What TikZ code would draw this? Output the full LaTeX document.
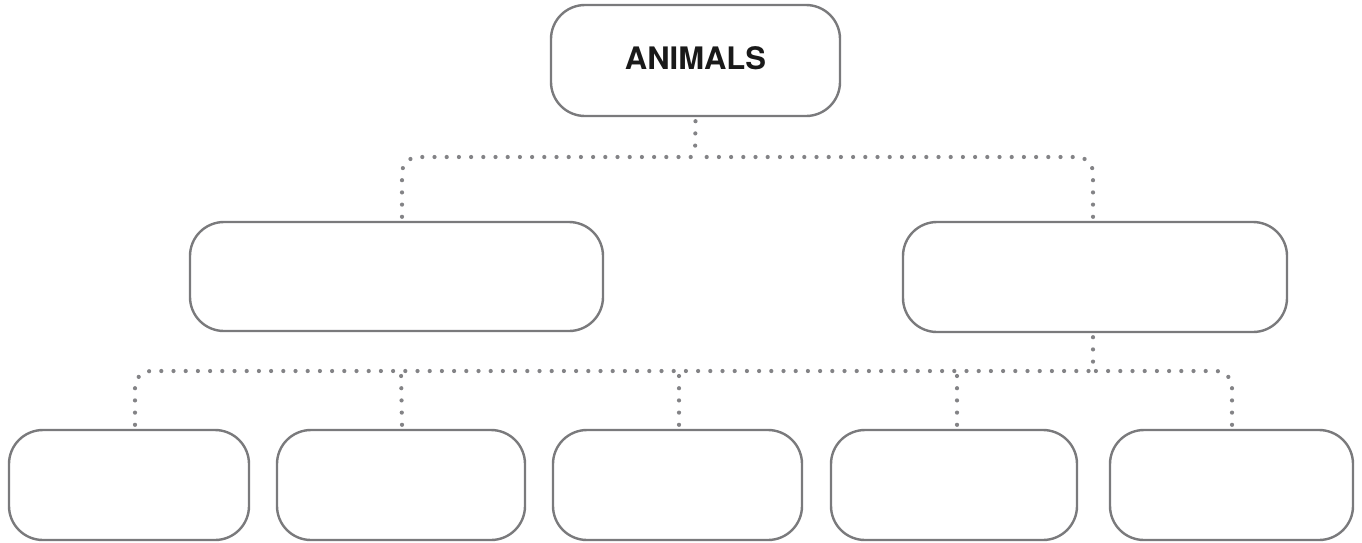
\documentclass[tikz,border=0pt]{standalone}
\usepackage{fontspec}
\setmainfont{TeX Gyre Heros}
\begin{document}
\begin{tikzpicture}[x=1pt,y=1pt,
  box/.style={draw=boxgray, line width=2.4pt, rounded corners=34pt, inner sep=0pt},
  dots/.style={draw=dotgray, line width=4.2pt, line cap=round, dash pattern=on 0pt off 12.2pt},
]
\definecolor{boxgray}{HTML}{7A7A7C}
\definecolor{dotgray}{HTML}{838386}
\useasboundingbox (0,0) rectangle (1362,-542);
\node[box, minimum width=289pt, minimum height=111pt] (top) at (695.5,-60.5) {};
\node[font=\bfseries\fontsize{31}{36}\selectfont, text=black!90] (title) at (695.5,-58) {ANIMALS};
\node[box, minimum width=413pt, minimum height=109pt] (ml) at (396.5,-276.5) {};
\node[box, minimum width=384pt, minimum height=110pt] (mr) at (1095,-277) {};
\node[box, minimum width=240pt, minimum height=110pt] (b1) at (129,-485) {};
\node[box, minimum width=248pt, minimum height=110pt] (b2) at (401,-485) {};
\node[box, minimum width=249pt, minimum height=110pt] (b3) at (677.5,-485) {};
\node[box, minimum width=246pt, minimum height=110pt] (b4) at (954,-485) {};
\node[box, minimum width=243pt, minimum height=110pt] (b5) at (1231.5,-485) {};
\coordinate (bus1) at (695,-157);
\coordinate (bus2) at (1093,-371);
% top level connectors
\draw[dots] ([yshift=-4pt]top.south) -- (bus1);
\draw[dots, rounded corners=16pt] ([xshift=5.5pt,yshift=4pt]ml.north) |- (bus1);
\draw[dots, rounded corners=16pt] ([xshift=-2pt,yshift=4pt]mr.north) |- (bus1);
% second level connectors
\draw[dots] ([xshift=-2pt,yshift=-4pt]mr.south) -- (bus2);
\draw[dots, rounded corners=16pt] ([xshift=6pt,yshift=4pt]b1.north) |- (bus2);
\draw[dots, rounded corners=16pt] ([xshift=0.5pt,yshift=4pt]b5.north) |- (bus2);
\draw[dots] ([xshift=1pt,yshift=4pt]b2.north) -- (b2.north |- bus2);
\draw[dots] ([xshift=1.5pt,yshift=4pt]b3.north) -- ([xshift=1.5pt]b3.north |- bus2);
\draw[dots] ([xshift=3pt,yshift=4pt]b4.north) -- ([xshift=3pt]b4.north |- bus2);
\end{tikzpicture}
\end{document}
